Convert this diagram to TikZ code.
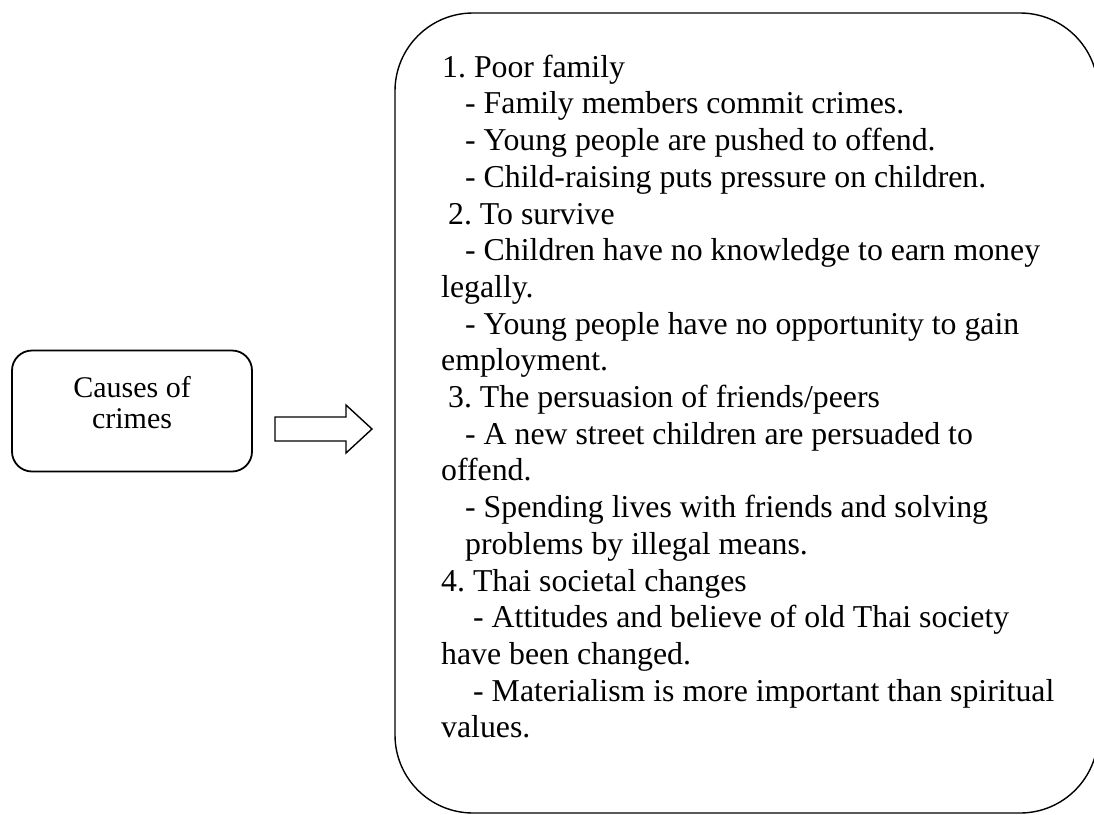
\documentclass[tikz,border=0pt]{standalone}
\usepackage{fontspec}
\setmainfont{Liberation Serif}
\begin{document}
\frenchspacing
\begin{tikzpicture}[x=1pt,y=-1pt,
  causebox/.style={draw, line width=1.8pt, rounded corners=20pt, minimum width=240pt, minimum height=121pt, inner sep=0pt},
  causetext/.style={anchor=north, inner sep=0pt, align=center, font=\fontsize{30}{31}\selectfont},
  bigbox/.style={draw, line width=1.4pt, rounded corners=78pt, minimum width=703pt, minimum height=800pt, inner sep=0pt},
  blockarrow/.style={draw, line width=1.4pt, fill=white, line join=miter},
  listtext/.style={anchor=north west, inner sep=0pt, align=left, font=\fontsize{31.8}{36.7}\selectfont}
]
\useasboundingbox (0,0) rectangle (1094,814);

% left box
\node[causebox] (cause) at (132,411) {};
\node[causetext] (causelabel) at (132,375.3) {\strut Causes of\\crimes};

% big rounded box
\node[bigbox] (listbox) at (746.5,413) {};

% text of the big box
\node[listtext] (list) at (441,51.3) {%
\strut\hspace*{1pt}1. Poor family\\
\hspace*{24pt}- Family members commit crimes.\\
\hspace*{24pt}- Young people are pushed to offend.\\
\hspace*{24pt}- Child-raising puts pressure on children.\\
\hspace*{7pt}2. To survive\\
\hspace*{24pt}- Children have no knowledge to earn money\\
legally.\\
\hspace*{24pt}- Young people have no opportunity to gain\\
employment.\\
\hspace*{7pt}3. The persuasion of friends/peers\\
\hspace*{24pt}- A new street children are persuaded to\\
offend.\\
\hspace*{24pt}- Spending lives with friends and solving\\
\hspace*{24pt}problems by illegal means.\\
4. Thai societal changes\\
\hspace*{32pt}- Attitudes and believe of old Thai society\\
have been changed.\\
\hspace*{32pt}- Materialism is more important than spiritual\\
values.};

% block arrow
\coordinate (a1) at (275,417);
\coordinate (a2) at (346,417);
\coordinate (a3) at (346,405);
\coordinate (tip) at (372,429);
\coordinate (a5) at (346,453);
\coordinate (a6) at (346,441);
\coordinate (a7) at (275,441);
\draw[blockarrow] (a1) -- (a2) -- (a3) -- (tip) -- (a5) -- (a6) -- (a7) -- cycle;
\end{tikzpicture}
\end{document}
